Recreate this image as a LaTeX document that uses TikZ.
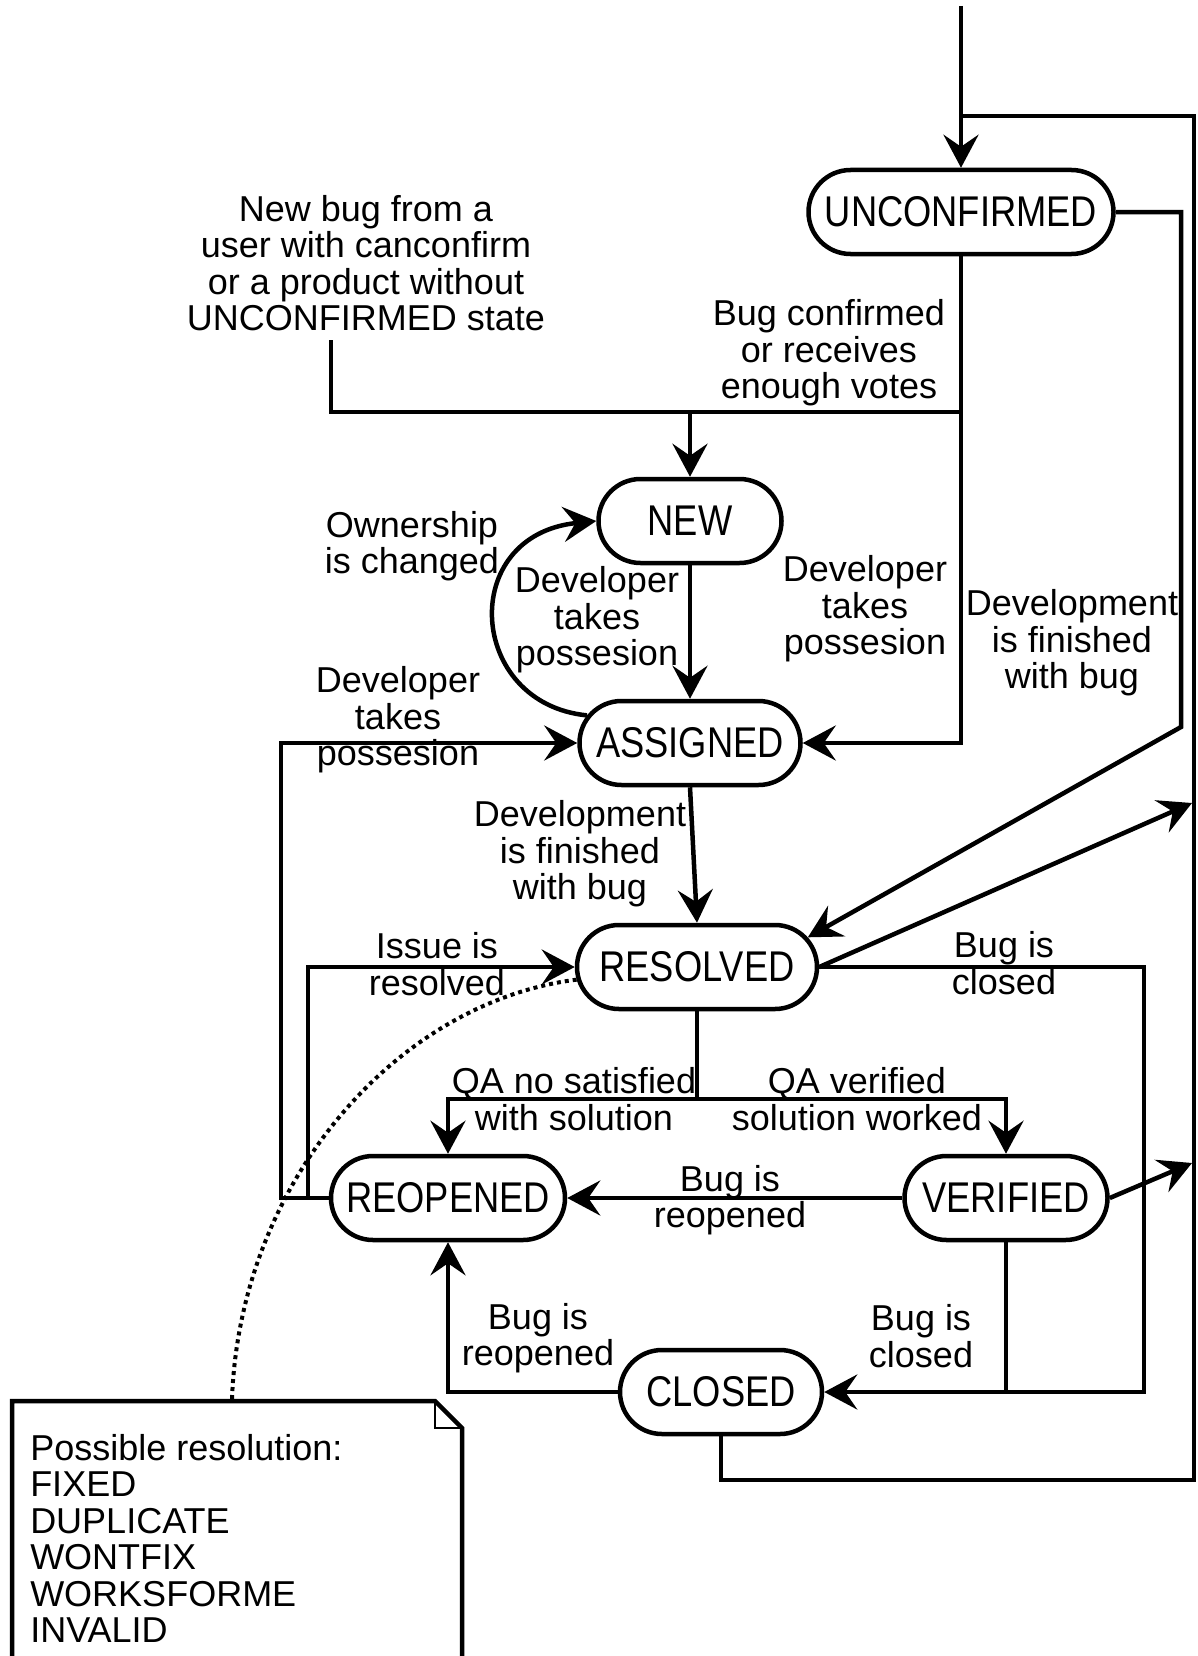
\documentclass[tikz,border=0pt]{standalone}
\usepackage{fontspec}
\setmainfont{Liberation Sans}
\newfontfamily\statefamily{Liberation Sans}[FakeStretch=0.844]
\usetikzlibrary{arrows.meta,shapes.misc,calc}
\newcommand\bugfont{\fontsize{36}{36.5}\selectfont\lineskiplimit=-60pt\relax}
\newcommand\statefont{\statefamily\fontsize{43}{43}\selectfont}
\begin{document}
\begin{tikzpicture}[x=1pt,y=-1pt,line width=4.5pt,>={Stealth[length=33pt,width=35pt,inset=12pt]},
  every node/.style={font=\bugfont,inner sep=0pt},
  bugstate/.style={draw,rounded rectangle,minimum height=84pt,minimum width=#1,font=\statefont},
  lbl/.style={align=center}]
\useasboundingbox (0,0) rectangle (1198,1656);
\node[bugstate=305pt] (unconfirmed) at (961,212) {UNCONFIRMED};
\node[bugstate=183pt] (new) at (690,521) {NEW};
\node[bugstate=221pt] (assigned) at (690,743) {ASSIGNED};
\node[bugstate=240pt] (resolved) at (697,967) {RESOLVED};
\node[bugstate=234pt] (reopened) at (448,1198) {REOPENED};
\node[bugstate=203pt] (verified) at (1006,1198) {VERIFIED};
\node[bugstate=202pt] (closed) at (721,1392) {CLOSED};
\coordinate (entry) at (961,6);
\coordinate (loopturn) at (961,116);
\coordinate (loopright) at (1194,116);
\coordinate (loopbottom) at (1194,1480);
\coordinate (ubend) at (1181,727);
\coordinate (join) at (961,412);
\coordinate (newbugfoot) at (331,340);
\coordinate (qasplit) at (697,1099);
\coordinate (rclose) at (1144,1392);
\coordinate (rtip) at (1192,803);
\coordinate (vtip) at (1192,1163);
\coordinate (notetop) at (232,1399);
\draw[->] (entry) -- (unconfirmed.north);
\draw (closed.south) |- (loopbottom) -- (loopright) -- (loopturn);
\draw[->] (unconfirmed.east) -| (ubend) -- (resolved.15);
\draw[->] (unconfirmed.south) |- (assigned.east);
\draw (newbugfoot) |- (join);
\draw[->] (new.north |- join) -- (new.north);
\draw[->] (new.south) -- (assigned.north);
\draw[->] (assigned.165) .. controls +(-120,-12) and +(-139,14) .. (new.west);
\draw[->] (reopened.west) -- ++(-48,0) |- (assigned.west);
\draw[->] ($(reopened.west)+(-21,0)$) |- (resolved.west);
\draw[->] (assigned.south) -- (resolved.north);
\draw (resolved.south) -- (qasplit);
\draw[->] (qasplit) -| (reopened.north);
\draw[->] (qasplit) -| (verified.north);
\draw[->] (verified.west) -- (reopened.east);
\draw[->] (verified.east) -- (vtip);
\draw[->] (resolved.east) -- (rtip);
\draw[->] (verified.south) |- (closed.east);
\draw (resolved.east) -| (rclose) -- (verified.south |- closed.east);
\draw[->] (closed.west) -| (reopened.south);
\node[lbl] (newbug) at (366,263) {New bug from a\\user with canconfirm\\or a product without\\UNCONFIRMED state};
\node[lbl] (confirmed) at (829,353) {Bug confirmed\\or receives\\enough votes};
\node[lbl] (ownership) at (412,546) {Ownership\\is changed};
\node[lbl] (takesmid) at (597,620) {Developer\\takes\\possesion};
\node[lbl] (takesright) at (865,609) {Developer\\takes\\possesion};
\node[lbl] (finishright) at (1072,643) {Development\\is finished\\with bug};
\node[lbl] (takesleft) at (398,720) {Developer\\takes\\possesion};
\node[lbl] (finishmid) at (580,854) {Development\\is finished\\with bug};
\node[lbl] (issue) at (437,964) {Issue is\\resolved};
\node[lbl] (closedtop) at (1004,963) {Bug is\\closed};
\node[lbl] (qano) at (574,1099) {QA no satisfied\\with solution};
\node[lbl] (qaok) at (857,1099) {QA verified\\solution worked};
\node[lbl] (reopenmid) at (730,1200) {Bug is\\reopened};
\node[lbl] (reopenlow) at (538,1338) {Bug is\\reopened};
\node[lbl] (closedlow) at (921,1336) {Bug is\\closed};
\draw (12,1680) -- (12,1401) -- (435,1401) -- (462,1428) -- (462,1680);
\draw[line width=1.5pt] (435,1401) |- (462,1428);
\node[align=left,anchor=north west] (resolutions) at (28,1432) {Possible resolution:\\FIXED\\DUPLICATE\\WONTFIX\\WORKSFORME\\INVALID};
\draw[dash pattern=on 4pt off 4pt,line width=4pt] (notetop) .. controls +(8,-219) and +(-178,22) .. (resolved.186);
\end{tikzpicture}
\end{document}
